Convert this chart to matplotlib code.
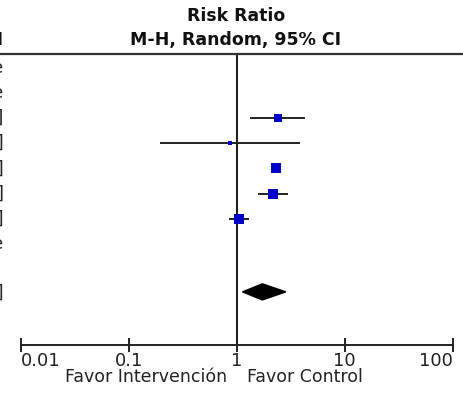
import numpy as np
import matplotlib
matplotlib.use('Agg')
import matplotlib.pyplot as plt
from matplotlib.patches import Polygon
from matplotlib.lines import Line2D

# study rows (risk ratio, 95% CI, weight %)
rr = [2.43, 0.86, 2.29, 2.16, 1.04]
ci_lo = [1.37, 0.20, 2.13, 1.60, 0.86]
ci_hi = [4.20, 3.77, 2.46, 2.92, 1.27]
weights = [18.5, 6.5, 24.0, 27.0, 24.0]
study_rows = [2, 3, 4, 5, 6]

# pooled estimate
total_rr, total_lo, total_hi = 1.73, 1.13, 2.85
total_row = 8.9

# text of the (clipped) left column
left_texts = ['Not estimable', 'Not estimable',
              '2.43 [1.37, 4.20]', '0.86 [0.20, 3.77]', '2.29 [2.13, 2.46]',
              '2.16 [1.60, 2.92]', '1.04 [0.86, 1.27]', 'Not estimable',
              '1.73 [1.13, 2.85]']
left_rows = [0, 1, 2, 3, 4, 5, 6, 7, 8.95]

ticks = [0.01, 0.1, 1, 10, 100]
tick_labels = ['0.01', '0.1', '1', '10', '100']

W, H = 463, 393
fig = plt.figure(figsize=(W / 100, H / 100), dpi=100)
plt.rcParams['font.family'] = 'DejaVu Sans'

top_px, bot_px = 53.5, 345
ax = fig.add_axes([20.7 / W, 1 - bot_px / H, (452.7 - 20.7) / W, (bot_px - top_px) / H])
ax.set_xscale('log')
ax.set_xlim(0.01, 100)
pitch = 25.2
ax.set_ylim((bot_px - 67.6) / pitch, (top_px - 67.6) / pitch)

for s in ['top', 'left', 'right']:
    ax.spines[s].set_visible(False)
ax.spines['bottom'].set_linewidth(1.4)
ax.spines['bottom'].set_color('#222222')
ax.set_yticks([])
ax.set_xticks(ticks)
ax.minorticks_off()
ax.set_xticklabels(tick_labels, fontsize=13, color='#222222')
ax.tick_params(axis='x', direction='inout', length=9.5, width=1.4, color='#222222', pad=0)
labs = ax.get_xticklabels()
labs[0].set_ha('left')
labs[-1].set_ha('right')

ax.axvline(1, color='#222222', lw=1.5, zorder=1)

line_col = '#222222'
blue = '#0000c8'
for r, m, lo, hi, w in zip(study_rows, rr, ci_lo, ci_hi, weights):
    ax.plot([lo, hi], [r, r], color=line_col, lw=1.4, zorder=2)
    side = 1.84 * np.sqrt(w)
    ax.plot(m, r, marker='s', ms=side * 0.72, color=blue, mec=blue, mew=0, zorder=3)

dh = 0.32
ax.add_patch(Polygon([[total_lo, total_row], [total_rr, total_row - dh],
                      [total_hi, total_row], [total_rr, total_row + dh]],
                     closed=True, color='black', zorder=3))

# header
fig.text(236 / W, 1 - 16 / H, 'Risk Ratio', ha='center', va='center',
         fontsize=12.4, fontweight='bold', color='#111111')
fig.text(236 / W, 1 - 39.5 / H, 'M-H, Random, 95% CI', ha='center', va='center',
         fontsize=12.5, fontweight='bold', color='#111111')
fig.add_artist(Line2D([0, 1], [1 - top_px / H, 1 - top_px / H], color='#333333', lw=1.6))

# left column, mostly outside the picture
fig.text(3.5 / W, 1 - 39.5 / H, 'M-H, Random, 95% CI', ha='right', va='center',
         fontsize=12.5, fontweight='bold', color='#111111')
for r, t in zip(left_rows, left_texts):
    y_px = 67.6 + pitch * r
    fig.text(3.5 / W, 1 - y_px / H, t, ha='right', va='center',
             fontsize=12.5, color='#222222')

fig.text(227 / W, 1 - 377 / H, 'Favor Intervención', ha='right', va='center',
         fontsize=12.5, color='#222222')
fig.text(247 / W, 1 - 377 / H, 'Favor Control', ha='left', va='center',
         fontsize=12.5, color='#222222')

fig.savefig('out.png', dpi=100)
